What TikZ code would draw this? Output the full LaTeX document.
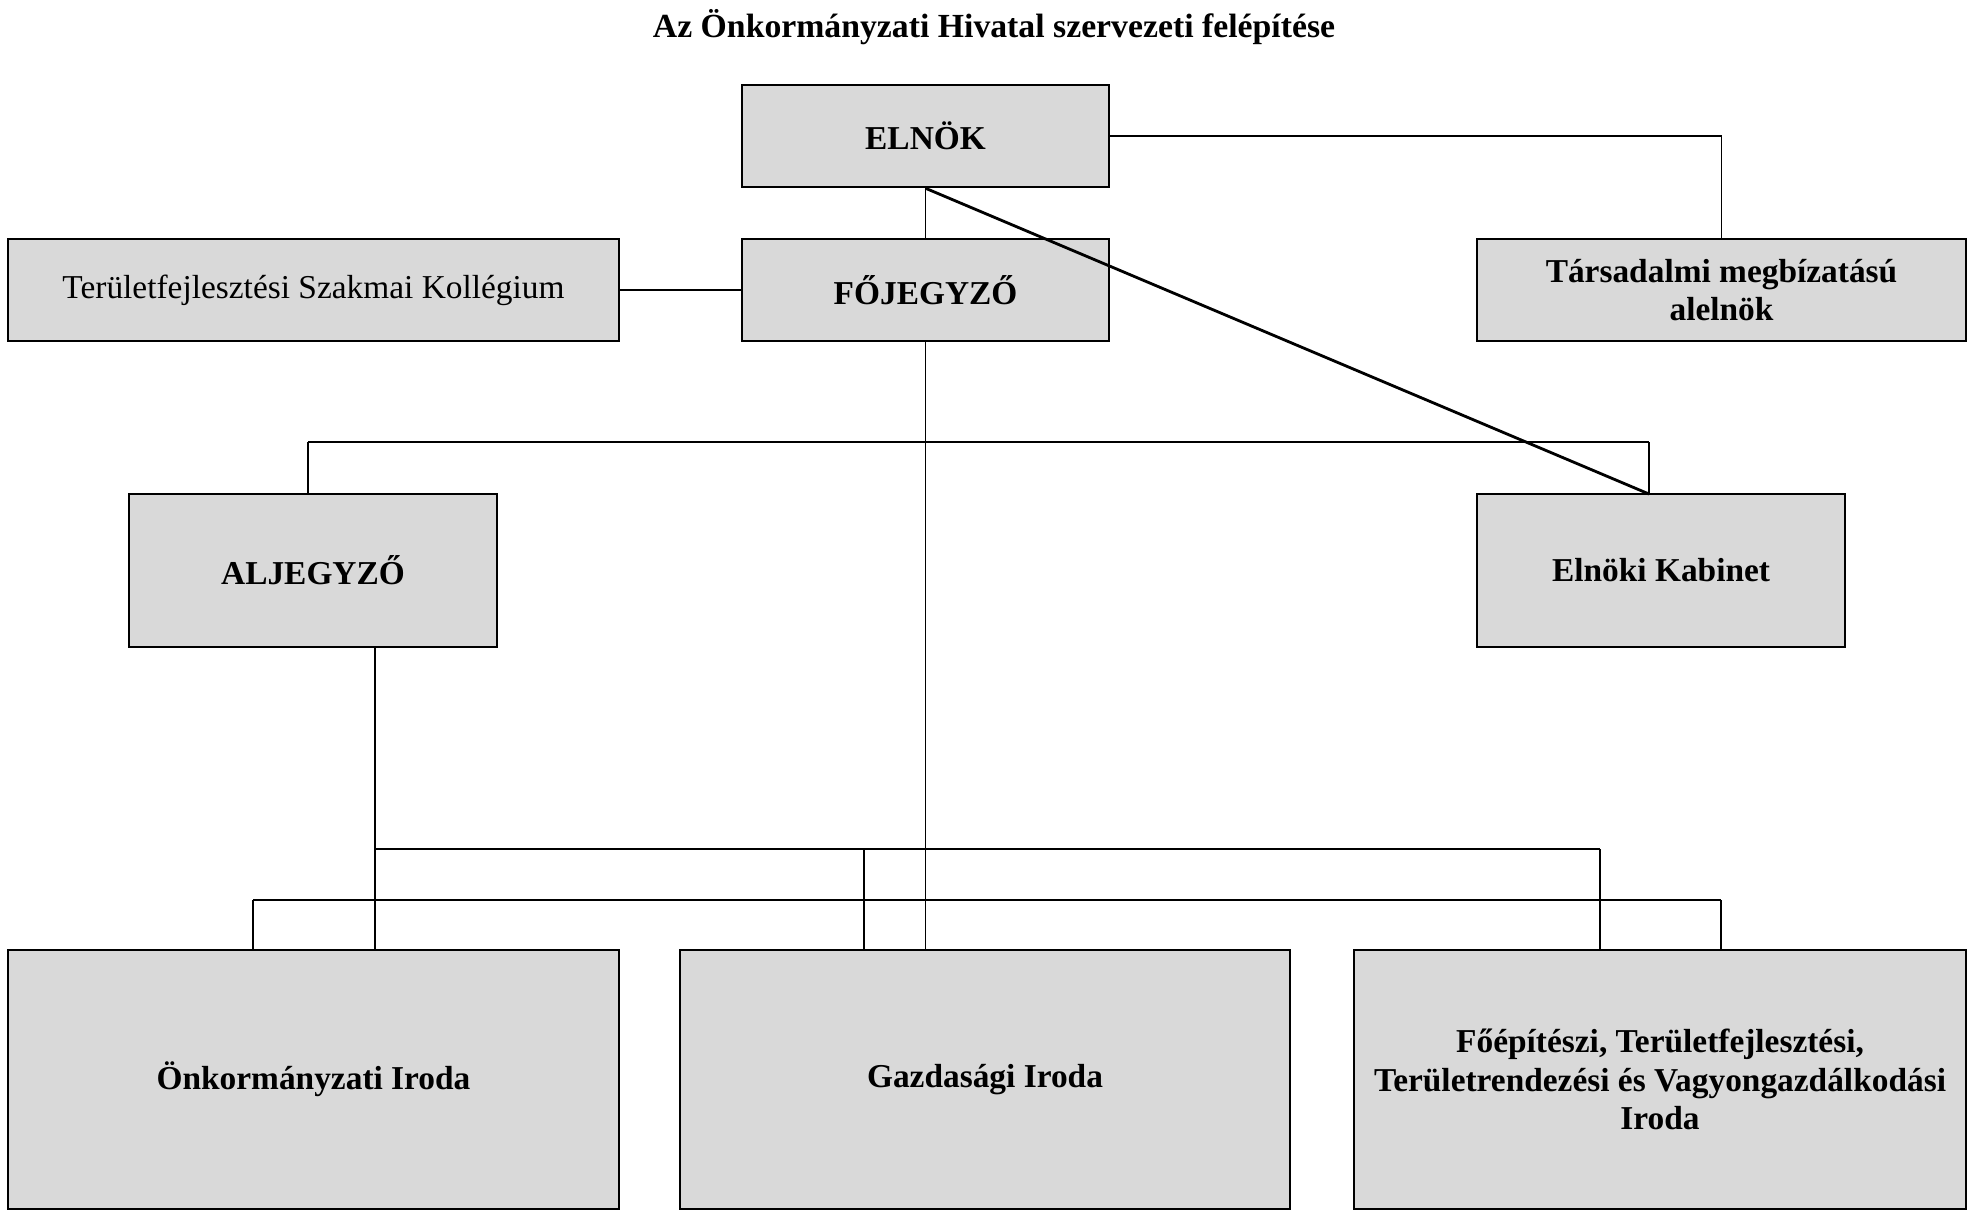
\documentclass[tikz,border=0pt]{standalone}
\usepackage{fontspec}
\setmainfont{Liberation Serif}
\usepackage{tikz}
\definecolor{boxgray}{HTML}{D9D9D9}

\begin{document}
\begin{tikzpicture}[
                orgbox/.style={draw=black,line width=0.7pt,fill=boxgray,align=center,
                    inner sep=0pt,font=\fontsize{9.5}{11}\selectfont\bfseries},
                plainbox/.style={orgbox,font=\fontsize{9.5}{11}\selectfont},
                hline/.style={line width=0.8pt},
                vline/.style={line width=0.45pt}]
                \useasboundingbox (0,0) rectangle (19.81,-12.23);

                \node[font=\fontsize{9.6}{11}\selectfont\bfseries] (title) at (9.94,-0.27)
                    {Az Önkormányzati Hivatal szervezeti felépítése};

                \node[orgbox,minimum width=3.67cm,minimum height=1.02cm] (elnok) at (9.255,-1.36) {ELNÖK};
                \node[orgbox,minimum width=3.67cm,minimum height=1.02cm] (fojegyzo) at (9.255,-2.90) {FŐJEGYZŐ};
                \node[plainbox,minimum width=6.11cm,minimum height=1.02cm] (kollegium) at (3.135,-2.90)
                    {Területfejlesztési Szakmai Kollégium};
                \node[orgbox,minimum width=4.89cm,minimum height=1.02cm] (tars) at (17.215,-2.90)
                    {Társadalmi megbízatású\\alelnök};

                \node[orgbox,minimum width=3.68cm,minimum height=1.53cm] (aljegyzo) at (3.13,-5.705) {ALJEGYZŐ};
                \node[orgbox,minimum width=3.68cm,minimum height=1.53cm] (kabinet) at (16.61,-5.705) {Elnöki Kabinet};

                \node[orgbox,minimum width=6.11cm,minimum height=2.59cm] (onk) at (3.135,-10.795) {Önkormányzati Iroda};
                \node[orgbox,minimum width=6.10cm,minimum height=2.59cm] (gazd) at (9.85,-10.795) {Gazdasági Iroda};
                \node[orgbox,minimum width=6.12cm,minimum height=2.59cm] (foep) at (16.60,-10.795)
                    {Főépítészi, Területfejlesztési,\\Területrendezési és Vagyongazdálkodási\\Iroda};

                \coordinate (e1) at (elnok.east -| tars.north);
                \draw[hline] (elnok.east) -- (e1);
                \draw[vline] (e1) -- (tars.north);

                \draw[vline] (elnok.south) -- (fojegyzo.north);
                \draw[hline] (kollegium.east) -- (fojegyzo.west);

                \coordinate (k1) at (16.49,-4.94);
                \draw[hline] (elnok.south) -- (k1);

                \coordinate (b1) at (3.08,-4.42);
                \coordinate (b2) at (16.49,-4.42);
                \draw[hline] (b1) -- (b2);
                \draw[vline] (b1) -- (b1 |- aljegyzo.north);
                \draw[vline] (b2) -- (k1);

                \draw[vline] (fojegyzo.south) -- (fojegyzo.south |- gazd.north);

                \coordinate (a1) at (3.75,-8.49);
                \coordinate (a2) at (8.64,-8.49);
                \coordinate (a3) at (16.00,-8.49);
                \draw[vline] (a1 |- aljegyzo.south) -- (a1 |- onk.north);
                \draw[hline] (a1) -- (a3);
                \draw[vline] (a2) -- (a2 |- gazd.north);
                \draw[vline] (a3) -- (a3 |- foep.north);

                \coordinate (c1) at (2.53,-9.00);
                \coordinate (c2) at (17.21,-9.00);
                \draw[hline] (c1) -- (c2);
                \draw[vline] (c1) -- (c1 |- onk.north);
                \draw[vline] (c2) -- (c2 |- foep.north);
            \end{tikzpicture}
\end{document}
